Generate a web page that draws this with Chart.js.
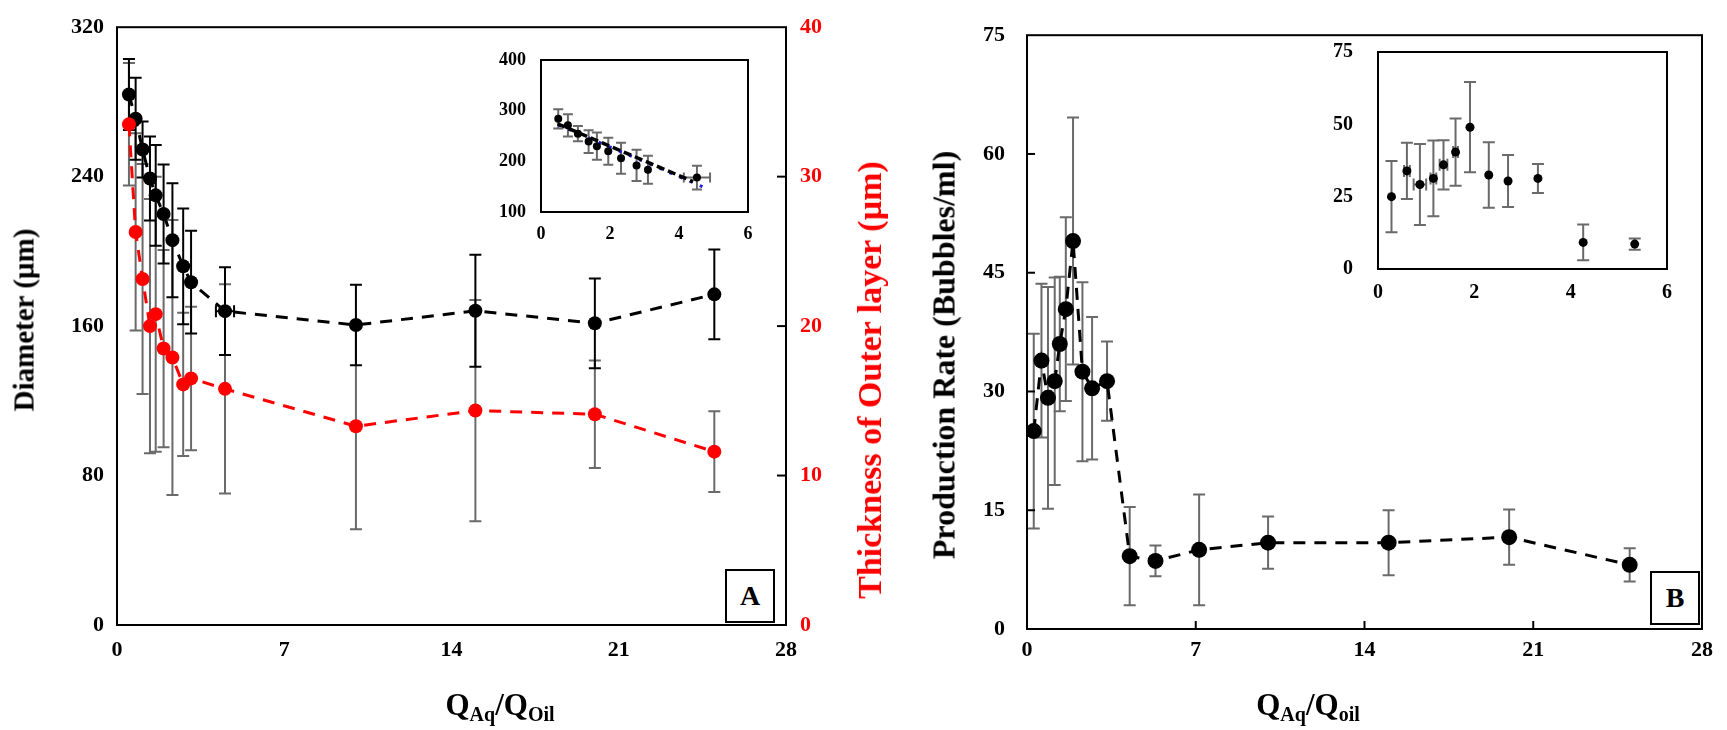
<!DOCTYPE html>
<html>
<head>
<meta charset="utf-8">
<script src="https://cdn.jsdelivr.net/npm/chart.js@4.4.0/dist/chart.umd.min.js"></script>
<style>
  body { margin: 0; background: #fff; width: 1727px; height: 730px; overflow: hidden; position: relative;
         font-family: "Liberation Serif", "Times New Roman", serif; }
  canvas { position: absolute; }
  .ttl { position: absolute; font-weight: bold; font-size: 29px; white-space: nowrap; transform: translate(-50%, -50%); }
  .rot { transform: translate(-50%, -50%) rotate(-90deg); }
  .ttl sub { font-size: 20px; vertical-align: -6px; line-height: 0; }
  .tag { position: absolute; border: 2px solid #000; font-weight: bold; font-size: 28px; display: flex;
         align-items: center; justify-content: center; box-sizing: border-box; background: #fff; }
</style>
</head>
<body>
<canvas id="mainA" width="900" height="730" style="left:0;top:0"></canvas>
<canvas id="mainB" width="827" height="730" style="left:900px;top:0"></canvas>
<canvas id="insetA" width="290" height="230" style="left:480px;top:30px"></canvas>
<canvas id="insetB" width="400" height="300" style="left:1300px;top:15px"></canvas>

<div class="ttl rot" style="left:24px;top:320px;font-size:29px">Diameter (µm)</div>
<div class="ttl rot" style="left:870px;top:380px;font-size:34px;color:#ff0000">Thickness of Outer layer (µm)</div>
<div class="ttl rot" style="left:944px;top:355px;font-size:32px">Production Rate (Bubbles/ml)</div>
<div class="ttl" style="left:500px;top:705px;font-size:31px">Q<sub>Aq</sub>/Q<sub>Oil</sub></div>
<div class="ttl" style="left:1308px;top:705px;font-size:31px">Q<sub>Aq</sub>/Q<sub>oil</sub></div>
<div class="tag" style="left:725px;top:569px;width:50px;height:54px">A</div>
<div class="tag" style="left:1650px;top:571px;width:50px;height:54px">B</div>

<script>
// ---- panel A : diameter and outer layer thickness vs QAq/QOil
const ratioA = [0.5, 0.78, 1.07, 1.38, 1.62, 1.95, 2.32, 2.77, 3.1, 4.52, 10, 15, 20, 25];
const ratioErrA = [0, 0, 0, 0, 0, 0, 0, 0, 0, 0.38, 0, 0, 0, 0];
const diameter = [284, 271, 254.5, 239, 230, 220, 206, 192, 183.5, 168, 160.6, 168.2, 161.5, 177];
const diameterErr = [19, 22, 15, 22.5, 27, 26.5, 30.5, 31, 27.5, 23.5, 21.5, 30, 24, 24];
const thickness = [33.5, 26.3, 23.15, 20.0, 20.8, 18.5, 17.9, 16.1, 16.5, 15.8, 13.3, 14.35, 14.1, 11.6];
const thicknessErr = [4.1, 6.6, 7.7, 8.5, 9.2, 6.6, 9.2, 4.8, 4.8, 7.0, 6.9, 7.4, 3.6, 2.7];

// inset A: low-ratio points with the two fitted lines
const insetCountA = 10;
const fitX = [0.48, 4.41];
const fitDashY = [274, 160];
const fitDotX = [0.5, 4.68];
const fitDotY = [272, 150];

// ---- panel B : production rate vs QAq/Qoil
const ratioB = [0.28, 0.6, 0.87, 1.15, 1.36, 1.61, 1.91, 2.3, 2.7, 3.32, 4.26, 5.33, 7.14, 10, 15, 20, 25];
const ratioErrB = [0, 0.06, 0.13, 0.06, 0.08, 0.05, 0, 0, 0, 0, 0, 0, 0, 0, 0, 0, 0];
const rate = [25.0, 33.9, 29.2, 31.3, 36.0, 40.4, 49.0, 32.5, 30.4, 31.3, 9.2, 8.6, 10.0, 10.9, 10.9, 11.6, 8.1];
const rateErr = [12.3, 9.7, 14, 13.1, 8.5, 11.6, 15.6, 11.3, 9, 5, 6.2, 1.95, 7, 3.3, 4.1, 3.5, 2.1];
const insetCountB = 12;

const FONT = '"Liberation Serif", "Times New Roman", serif';
Chart.defaults.font.family = FONT;
Chart.defaults.color = "#000";

function points(xs, ys, n) {
  return xs.slice(0, n || xs.length).map((x, i) => ({ x: x, y: ys[i] }));
}

// black frame round the plot area
const frame = {
  id: "frame",
  afterDraw(chart) {
    const { ctx, chartArea: a } = chart;
    ctx.save();
    ctx.strokeStyle = "#000";
    ctx.lineWidth = 2;
    ctx.strokeRect(a.left, a.top, a.right - a.left, a.bottom - a.top);
    ctx.restore();
  },
};

// error bars, read from errY / errX on each dataset
const errorBars = {
  id: "errorBars",
  beforeDatasetsDraw(chart) {
    const ctx = chart.ctx;
    chart.data.datasets.forEach((ds, i) => {
      if (!ds.errY && !ds.errX) return;
      const meta = chart.getDatasetMeta(i);
      const xs = meta.xScale, ys = meta.yScale;
      const cap = ds.capSize || 6;
      ctx.save();
      ctx.strokeStyle = ds.errColor || "#666";
      ctx.lineWidth = ds.errWidth || 2;
      ds.data.forEach((p, j) => {
        const px = xs.getPixelForValue(p.x);
        const py = ys.getPixelForValue(p.y);
        const ey = ds.errY ? ds.errY[j] : 0;
        const ex = ds.errX ? ds.errX[j] : 0;
        ctx.beginPath();
        if (ey) {
          const top = ys.getPixelForValue(p.y + ey);
          const bot = ys.getPixelForValue(p.y - ey);
          ctx.moveTo(px, top); ctx.lineTo(px, bot);
          ctx.moveTo(px - cap, top); ctx.lineTo(px + cap, top);
          ctx.moveTo(px - cap, bot); ctx.lineTo(px + cap, bot);
        }
        if (ex) {
          const l = xs.getPixelForValue(p.x - ex);
          const r = xs.getPixelForValue(p.x + ex);
          ctx.moveTo(l, py); ctx.lineTo(r, py);
          ctx.moveTo(l, py - cap); ctx.lineTo(l, py + cap);
          ctx.moveTo(r, py - cap); ctx.lineTo(r, py + cap);
        }
        ctx.stroke();
      });
      ctx.restore();
    });
  },
};

// short tick marks pointing into the plot
const inTicks = {
  id: "inTicks",
  afterDatasetsDraw(chart, args, opts) {
    if (!opts || !opts.scales) return;
    const { ctx, chartArea: a } = chart;
    ctx.save();
    ctx.strokeStyle = "#000";
    ctx.lineWidth = 2;
    opts.scales.forEach((id) => {
      const s = chart.scales[id];
      s.ticks.forEach((t) => {
        if (t.value === s.min || t.value === s.max) return;
        const p = s.getPixelForValue(t.value);
        ctx.beginPath();
        if (s.isHorizontal()) { ctx.moveTo(p, a.bottom); ctx.lineTo(p, a.bottom - opts.len); }
        else if (s.position === "left") { ctx.moveTo(a.left, p); ctx.lineTo(a.left + opts.len, p); }
        else { ctx.moveTo(a.right, p); ctx.lineTo(a.right - opts.len, p); }
        ctx.stroke();
      });
    });
    ctx.restore();
  },
};

function axis(min, max, step, size, pad, fit, extra) {
  return Object.assign({
    type: "linear",
    min: min,
    max: max,
    grid: { display: false, drawTicks: false },
    border: { display: false },
    ticks: { stepSize: step, padding: pad, font: { size: size, weight: "bold" }, color: "#000" },
    afterFit: fit,
  }, extra || {});
}

function baseOptions(padding, scales, ticks) {
  return {
    responsive: false,
    animation: false,
    devicePixelRatio: 1,
    layout: { padding: padding },
    plugins: { legend: { display: false }, tooltip: { enabled: false }, inTicks: ticks || {} },
    scales: scales,
  };
}

// main chart A
new Chart(document.getElementById("mainA"), {
  type: "scatter",
  data: {
    datasets: [
      {
        data: points(ratioA, thickness),
        yAxisID: "y1",
        showLine: true,
        borderColor: "#ff0000",
        borderWidth: 3,
        borderDash: [12, 9],
        pointRadius: 7,
        pointBackgroundColor: "#ff0000",
        pointBorderWidth: 0,
        errY: thicknessErr,
        errColor: "#6a6a6a",
      },
      {
        data: points(ratioA, diameter),
        yAxisID: "y",
        showLine: true,
        borderColor: "#000",
        borderWidth: 3,
        borderDash: [12, 9],
        pointRadius: 7,
        pointBackgroundColor: "#000",
        pointBorderWidth: 0,
        errY: diameterErr,
        errX: ratioErrA,
        errColor: "#000",
      },
    ],
  },
  options: baseOptions(
    { top: 19, left: 0, right: 0, bottom: 0 },
    {
      x: axis(0, 28, 7, 22, 12, (s) => { s.height = 105; }),
      y: axis(0, 320, 80, 22, 13, (s) => { s.width = 117; }, { position: "left" }),
      y1: axis(0, 40, 10, 22, 14, (s) => { s.width = 114; }, {
        position: "right",
        ticks: { stepSize: 10, padding: 14, font: { size: 22, weight: "bold" }, color: "#ff0000" },
      }),
    },
    { scales: ["y1"], len: 9 }
  ),
  plugins: [frame, errorBars, inTicks],
});

// inset of chart A
new Chart(document.getElementById("insetA"), {
  type: "scatter",
  data: {
    datasets: [
      {
        data: points(ratioA, diameter, insetCountA),
        pointRadius: 4,
        pointBackgroundColor: "#000",
        pointBorderWidth: 0,
        errY: diameterErr,
        errX: ratioErrA,
        errColor: "#6a6a6a",
        errWidth: 2,
        capSize: 5,
      },
      {
        data: points(fitX, fitDashY),
        showLine: true,
        borderColor: "#000",
        borderWidth: 3.5,
        borderDash: [8, 4],
        pointRadius: 0,
      },
      {
        data: points(fitDotX, fitDotY),
        showLine: true,
        borderColor: "#1a1adc",
        borderWidth: 3,
        borderDash: [3, 8],
        pointRadius: 0,
      },
    ],
  },
  options: baseOptions(
    { top: 30, left: 0, right: 22, bottom: 0 },
    {
      x: axis(0, 6, 2, 18, 12, (s) => { s.height = 48; }),
      y: axis(100, 400, 100, 18, 15, (s) => { s.width = 61; }, { position: "left" }),
    }
  ),
  plugins: [frame, errorBars],
});

// main chart B
new Chart(document.getElementById("mainB"), {
  type: "scatter",
  data: {
    datasets: [
      {
        data: points(ratioB, rate),
        showLine: true,
        borderColor: "#000",
        borderWidth: 3,
        borderDash: [12, 9],
        pointRadius: 8,
        pointBackgroundColor: "#000",
        pointBorderWidth: 0,
        errY: rateErr,
        errX: ratioErrB,
        errColor: "#6a6a6a",
      },
    ],
  },
  options: baseOptions(
    { top: 24, left: 0, right: 25, bottom: 0 },
    {
      x: axis(0, 28, 7, 22, 8, (s) => { s.height = 101; }),
      y: axis(0, 75, 15, 22, 22, (s) => { s.width = 127; }, { position: "left" }),
    },
    { scales: ["x", "y"], len: 8 }
  ),
  plugins: [frame, errorBars, inTicks],
});

// inset of chart B
new Chart(document.getElementById("insetB"), {
  type: "scatter",
  data: {
    datasets: [
      {
        data: points(ratioB, rate, insetCountB),
        pointRadius: 4.5,
        pointBackgroundColor: "#000",
        pointBorderWidth: 0,
        errY: rateErr,
        errX: ratioErrB,
        errColor: "#6a6a6a",
        errWidth: 2,
        capSize: 6,
      },
    ],
  },
  options: baseOptions(
    { top: 32, left: 0, right: 33, bottom: 0 },
    {
      x: axis(0, 6, 2, 20, 12, (s) => { s.height = 46; }),
      y: axis(0, 75, 25, 20, 25, (s) => { s.width = 78; }, { position: "left" }),
    }
  ),
  plugins: [frame, errorBars],
});
</script>
</body>
</html>
